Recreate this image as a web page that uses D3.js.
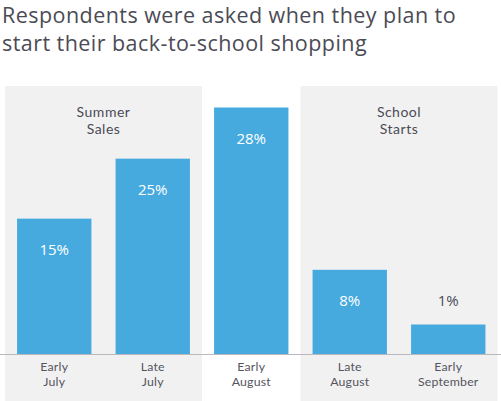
<!DOCTYPE html>
<html><head><meta charset="utf-8">
<script src="https://cdn.jsdelivr.net/npm/d3@7"></script>
<style>body{margin:0;background:#fff}svg{display:block}</style>
</head><body>
<script>
const titleLines = ["Respondents were asked when they plan to", "start their back-to-school shopping"];
const categories = ["Early\nJuly", "Late\nJuly", "Early\nAugust", "Late\nAugust", "Early\nSeptember"];
const values = [15.4, 22.2, 28, 9.6, 3.4];
const valueLabels = ["15%", "25%", "28%", "8%", "1%"];
const groups = [
  {name: "Summer\nSales", from: 0, to: 1},
  {name: "School\nStarts", from: 3, to: 4}
];

const W = 501, H = 401;
const svg = d3.select("body").append("svg").attr("width", W).attr("height", H);
const font = "'Open Sans', sans-serif";
const smallFont = "Lato, sans-serif";
const txt = "#4b4b55";

const x = d3.scaleBand().domain(d3.range(categories.length)).range([5, 497.5])
  .paddingInner(0.245).paddingOuter(0.1225);
const y = d3.scaleLinear().domain([0, 28]).range([354.5, 107.5]);
const half = x.step() * x.paddingInner() / 2;

svg.selectAll("rect.grp").data(groups).join("rect")
  .attr("x", d => x(d.from) - half)
  .attr("width", d => x(d.to) + x.bandwidth() + half - (x(d.from) - half))
  .attr("y", 86).attr("height", H - 86)
  .attr("fill", "#f1f1f2");

groups.forEach(g => {
  const cx = (x(g.from) + x(g.to) + x.bandwidth()) / 2;
  g.name.split("\n").forEach((l, i) => svg.append("text").attr("text-anchor", "middle")
    .attr("font-family", smallFont).attr("font-size", 14).attr("fill", txt)
    .attr("letter-spacing", 0.5)
    .attr("x", cx).attr("y", 117 + i * 17.2).text(l));
});

svg.selectAll("rect.bar").data(values).join("rect")
  .attr("x", (d, i) => x(i)).attr("width", x.bandwidth())
  .attr("y", d => y(d)).attr("height", d => y(0) - y(d))
  .attr("fill", "#46aadf");

svg.selectAll("text.val").data(values).join("text")
  .attr("text-anchor", "middle").attr("font-family", font).attr("font-size", 15)
  .attr("x", (d, i) => x(i) + x.bandwidth() / 2)
  .attr("y", d => (y(0) - y(d) > 50) ? y(d) + 36 : y(d) - 19)
  .attr("fill", d => (y(0) - y(d) > 50) ? "#ffffff" : txt)
  .text((d, i) => valueLabels[i]);

const axis = d3.axisBottom(x).tickSize(0).tickFormat("");
const ag = svg.append("g").attr("transform", `translate(0,${y(0)})`).call(axis);
ag.select(".domain").remove();
svg.append("line").attr("x1", 0).attr("x2", W).attr("y1", y(0)).attr("y2", y(0))
  .attr("stroke", "#b9b9bd").attr("stroke-width", 1.2);

categories.forEach((c, i) => {
  c.split("\n").forEach((l, j) => svg.append("text").attr("text-anchor", "middle")
    .attr("font-family", smallFont).attr("font-size", 12.3).attr("fill", "#55555e")
    .attr("letter-spacing", 0.2)
    .attr("x", x(i) + x.bandwidth() / 2).attr("y", 371 + j * 14.6).text(l));
});

titleLines.forEach((l, i) => svg.append("text").attr("font-family", font).attr("font-size", 21.5)
  .attr("fill", txt).attr("letter-spacing", 0.45)
  .attr("x", 2).attr("y", 22.5 + i * 28).text(l));
</script>
</body></html>
